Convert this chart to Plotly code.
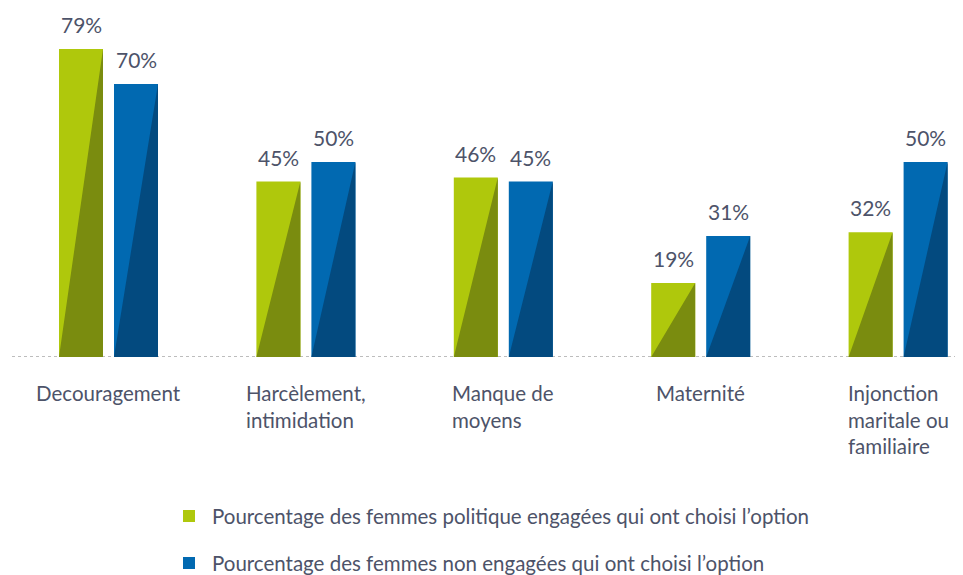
import plotly.graph_objects as go

categories = ["Decouragement", "Harcèlement,<br>intimidation", "Manque de<br>moyens",
              "Maternité", "Injonction<br>maritale ou<br>familiaire"]
engagees = [79, 45, 46, 19, 32]
non_engagees = [70, 50, 45, 31, 50]
series_names = ["Pourcentage des femmes politique engagées qui ont choisi l’option",
                "Pourcentage des femmes non engagées qui ont choisi l’option"]

light = ["#afc80c", "#0169b1"]
dark = ["#7a8c0f", "#034a7f"]
txt = "#4d5369"
FONT = "Lato"

OFF = 8  # page body margin
W, H = 963 - OFF, 575 - OFF
ML, MR, MT, MB = 12 - OFF, 0, 0, 575 - 357
spacing_px = 197.4
first_center_px = 108.5 - OFF
xmin = -(first_center_px - ML) / spacing_px
xmax = xmin + (W - ML - MR) / spacing_px
bar_w = 44 / spacing_px
offs = [-27.5 / spacing_px, 27.5 / spacing_px]
h_plot = H - MT - MB
w_plot = W - ML - MR
ymax = h_plot / 3.9


def py(p):
    return (H - MB - (p - OFF)) / h_plot


def px(p):
    return (p - OFF - ML) / w_plot


fig = go.Figure()
xs = list(range(len(categories)))
for i, vals in enumerate([engagees, non_engagees]):
    centers = [x + offs[i] for x in xs]
    fig.add_trace(go.Bar(x=centers, y=vals, width=bar_w, marker=dict(color=light[i], line_width=0),
                         name=series_names[i], showlegend=False, hoverinfo="skip"))
    tx, ty = [], []
    for c, v in zip(centers, vals):
        x0, x1 = c - bar_w / 2, c + bar_w / 2
        tx += [x0, x1, x1, x0, None]
        ty += [0, 0, v, 0, None]
    fig.add_trace(go.Scatter(x=tx, y=ty, mode="lines", fill="toself", fillcolor=dark[i],
                             line=dict(width=0, color=dark[i]), showlegend=False, hoverinfo="skip"))
    for c, v in zip(centers, vals):
        fig.add_annotation(x=c, y=v, text=f"{v}%", showarrow=False, yanchor="bottom",
                           yshift=10, font=dict(family=FONT, size=21, color=txt))

for x, lab in zip(xs, categories):
    fig.add_annotation(x=x, y=0, text=lab, showarrow=False, yanchor="top", xanchor="center",
                       align="left", yshift=-22, font=dict(family=FONT, size=20.5, color=txt))

# dotted baseline
fig.add_shape(type="line", xref="paper", yref="y", x0=0, x1=1, y0=0, y1=0,
              line=dict(color="#bdbdbd", width=2, dash="dot"), layer="below")

# legend
leg_y = [516, 563]
for i, name in enumerate(series_names):
    fig.add_shape(type="rect", xref="paper", yref="paper", x0=px(183), x1=px(195),
                  y0=py(leg_y[i] + 6), y1=py(leg_y[i] - 6), line_width=0, fillcolor=light[i])
    fig.add_annotation(xref="paper", yref="paper", x=px(210), y=py(leg_y[i]), text=name,
                       showarrow=False, xanchor="left", yanchor="middle",
                       font=dict(family=FONT, size=20.5, color=txt))

fig.update_layout(
    width=W, height=H, margin=dict(l=ML, r=MR, t=MT, b=MB),
    plot_bgcolor="white", paper_bgcolor="white", barmode="overlay",
    xaxis=dict(range=[xmin, xmax], showticklabels=False, showgrid=False, zeroline=False,
               showline=False, ticks=""),
    yaxis=dict(range=[0, ymax], visible=False, showgrid=False, zeroline=False),
    showlegend=False,
)
fig.write_html("out.html")
